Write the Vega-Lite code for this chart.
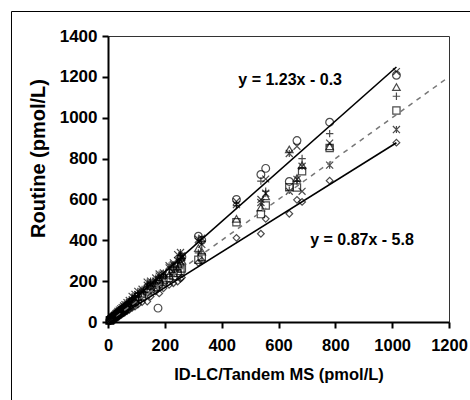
{
  "$schema": "https://vega.github.io/schema/vega-lite/v6.json",
  "width": 341,
  "height": 286,
  "autosize": {"type": "none"},
  "padding": {"left": 108, "top": 36, "right": 21, "bottom": 78},
  "background": "white",
  "config": {
    "view": {"stroke": "#333", "strokeWidth": 1},
    "font": "Liberation Sans",
    "axis": {
      "domainColor": "black", "domainWidth": 2,
      "tickColor": "black", "tickWidth": 2, "tickSize": 6,
      "grid": false,
      "labelFont": "Liberation Sans", "labelFontWeight": "bold", "labelFontSize": 16, "labelColor": "black",
      "titleFont": "Liberation Sans", "titleFontWeight": "bold", "titleFontSize": 16, "titleColor": "black"
    }
  },
  "datasets": {
    "points": [
      {"x":1015,"y":1208,"lab":"c"},{"x":1015,"y":1150,"lab":"t"},{"x":1015,"y":1105,"lab":"p"},{"x":1015,"y":1035,"lab":"s"},{"x":1015,"y":942,"lab":"a"},{"x":1015,"y":1226,"lab":"x"},{"x":1015,"y":878,"lab":"d"},
      {"x":780,"y":978,"lab":"c"},{"x":780,"y":860,"lab":"t"},{"x":780,"y":922,"lab":"p"},{"x":780,"y":852,"lab":"s"},{"x":780,"y":768,"lab":"a"},{"x":780,"y":876,"lab":"x"},{"x":780,"y":692,"lab":"d"},
      {"x":683,"y":768,"lab":"t"},{"x":683,"y":800,"lab":"p"},{"x":683,"y":738,"lab":"s"},{"x":683,"y":762,"lab":"a"},{"x":683,"y":640,"lab":"x"},{"x":683,"y":588,"lab":"d"},
      {"x":665,"y":888,"lab":"c"},{"x":665,"y":705,"lab":"t"},{"x":665,"y":690,"lab":"p"},{"x":665,"y":658,"lab":"s"},{"x":665,"y":698,"lab":"a"},{"x":665,"y":860,"lab":"x"},{"x":665,"y":598,"lab":"d"},
      {"x":638,"y":688,"lab":"c"},{"x":638,"y":845,"lab":"t"},{"x":638,"y":645,"lab":"p"},{"x":638,"y":660,"lab":"s"},{"x":638,"y":825,"lab":"a"},{"x":638,"y":640,"lab":"x"},{"x":638,"y":530,"lab":"d"},
      {"x":555,"y":752,"lab":"c"},{"x":555,"y":615,"lab":"t"},{"x":555,"y":640,"lab":"p"},{"x":555,"y":570,"lab":"s"},{"x":555,"y":630,"lab":"a"},{"x":555,"y":700,"lab":"x"},{"x":555,"y":505,"lab":"d"},
      {"x":538,"y":722,"lab":"c"},{"x":538,"y":560,"lab":"t"},{"x":538,"y":690,"lab":"p"},{"x":538,"y":528,"lab":"s"},{"x":538,"y":585,"lab":"a"},{"x":538,"y":600,"lab":"x"},{"x":538,"y":432,"lab":"d"},
      {"x":452,"y":600,"lab":"c"},{"x":452,"y":505,"lab":"t"},{"x":452,"y":570,"lab":"p"},{"x":452,"y":488,"lab":"s"},{"x":452,"y":575,"lab":"a"},{"x":452,"y":590,"lab":"x"},{"x":452,"y":412,"lab":"d"},
      {"x":318,"y":420,"lab":"c"},{"x":318,"y":362,"lab":"t"},{"x":318,"y":338,"lab":"p"},{"x":318,"y":305,"lab":"s"},{"x":318,"y":405,"lab":"a"},{"x":318,"y":395,"lab":"x"},{"x":318,"y":290,"lab":"d"},
      {"x":330,"y":400,"lab":"c"},{"x":330,"y":345,"lab":"t"},{"x":330,"y":395,"lab":"p"},{"x":330,"y":318,"lab":"s"},{"x":330,"y":380,"lab":"a"},{"x":330,"y":410,"lab":"x"},{"x":330,"y":300,"lab":"d"},
      {"x":260,"y":318,"lab":"c"},{"x":260,"y":300,"lab":"t"},{"x":260,"y":310,"lab":"p"},{"x":260,"y":262,"lab":"s"},{"x":260,"y":325,"lab":"a"},{"x":260,"y":315,"lab":"x"},{"x":260,"y":218,"lab":"d"},
      {"x":255,"y":310,"lab":"c"},{"x":255,"y":290,"lab":"t"},{"x":255,"y":325,"lab":"p"},{"x":255,"y":250,"lab":"s"},{"x":255,"y":340,"lab":"a"},{"x":255,"y":300,"lab":"x"},{"x":255,"y":212,"lab":"d"},
      {"x":245,"y":270,"lab":"c"},{"x":245,"y":260,"lab":"t"},{"x":245,"y":290,"lab":"p"},{"x":245,"y":240,"lab":"s"},{"x":245,"y":300,"lab":"a"},{"x":245,"y":330,"lab":"x"},{"x":245,"y":198,"lab":"d"},
      {"x":230,"y":250,"lab":"c"},{"x":230,"y":240,"lab":"t"},{"x":230,"y":270,"lab":"p"},{"x":230,"y":225,"lab":"s"},{"x":230,"y":280,"lab":"a"},{"x":230,"y":290,"lab":"x"},{"x":230,"y":190,"lab":"d"},
      {"x":215,"y":240,"lab":"c"},{"x":215,"y":230,"lab":"t"},{"x":215,"y":255,"lab":"p"},{"x":215,"y":215,"lab":"s"},{"x":215,"y":275,"lab":"a"},{"x":215,"y":265,"lab":"x"},{"x":215,"y":182,"lab":"d"},
      {"x":195,"y":215,"lab":"c"},{"x":195,"y":205,"lab":"t"},{"x":195,"y":225,"lab":"p"},{"x":195,"y":198,"lab":"s"},{"x":195,"y":240,"lab":"a"},{"x":195,"y":230,"lab":"x"},{"x":195,"y":165,"lab":"d"},
      {"x":180,"y":195,"lab":"c"},{"x":180,"y":210,"lab":"t"},{"x":180,"y":220,"lab":"p"},{"x":180,"y":185,"lab":"s"},{"x":180,"y":235,"lab":"a"},{"x":180,"y":225,"lab":"x"},{"x":180,"y":140,"lab":"d"},
      {"x":176,"y":68,"lab":"c"},
      {"x":168,"y":168,"lab":"c"},{"x":168,"y":190,"lab":"t"},{"x":168,"y":205,"lab":"p"},{"x":168,"y":172,"lab":"s"},{"x":168,"y":215,"lab":"a"},{"x":168,"y":200,"lab":"x"},{"x":168,"y":150,"lab":"d"},
      {"x":150,"y":180,"lab":"c"},{"x":150,"y":175,"lab":"t"},{"x":150,"y":190,"lab":"p"},{"x":150,"y":160,"lab":"s"},{"x":150,"y":200,"lab":"a"},{"x":150,"y":185,"lab":"x"},{"x":150,"y":125,"lab":"d"},
      {"x":138,"y":165,"lab":"c"},{"x":138,"y":160,"lab":"t"},{"x":138,"y":175,"lab":"p"},{"x":138,"y":150,"lab":"s"},{"x":138,"y":195,"lab":"a"},{"x":138,"y":180,"lab":"x"},{"x":138,"y":100,"lab":"d"},
      {"x":120,"y":140,"lab":"c"},{"x":120,"y":135,"lab":"t"},{"x":120,"y":150,"lab":"p"},{"x":120,"y":125,"lab":"s"},{"x":120,"y":160,"lab":"a"},{"x":120,"y":148,"lab":"x"},{"x":120,"y":98,"lab":"d"},
      {"x":105,"y":125,"lab":"c"},{"x":105,"y":120,"lab":"t"},{"x":105,"y":140,"lab":"p"},{"x":105,"y":110,"lab":"s"},{"x":105,"y":150,"lab":"a"},{"x":105,"y":135,"lab":"x"},{"x":105,"y":85,"lab":"d"},
      {"x":95,"y":112,"lab":"c"},{"x":95,"y":108,"lab":"t"},{"x":95,"y":122,"lab":"p"},{"x":95,"y":100,"lab":"s"},{"x":95,"y":135,"lab":"a"},{"x":95,"y":118,"lab":"x"},{"x":95,"y":76,"lab":"d"},
      {"x":85,"y":100,"lab":"c"},{"x":85,"y":100,"lab":"t"},{"x":85,"y":115,"lab":"p"},{"x":85,"y":95,"lab":"s"},{"x":85,"y":125,"lab":"a"},{"x":85,"y":110,"lab":"x"},{"x":85,"y":70,"lab":"d"},
      {"x":75,"y":90,"lab":"c"},{"x":75,"y":85,"lab":"t"},{"x":75,"y":100,"lab":"p"},{"x":75,"y":80,"lab":"s"},{"x":75,"y":105,"lab":"a"},{"x":75,"y":95,"lab":"x"},{"x":75,"y":60,"lab":"d"},
      {"x":67,"y":80,"lab":"c"},{"x":67,"y":76,"lab":"t"},{"x":67,"y":88,"lab":"p"},{"x":67,"y":72,"lab":"s"},{"x":67,"y":95,"lab":"a"},{"x":67,"y":84,"lab":"x"},{"x":67,"y":54,"lab":"d"},
      {"x":60,"y":72,"lab":"c"},{"x":60,"y":70,"lab":"t"},{"x":60,"y":80,"lab":"p"},{"x":60,"y":65,"lab":"s"},{"x":60,"y":85,"lab":"a"},{"x":60,"y":75,"lab":"x"},{"x":60,"y":48,"lab":"d"},
      {"x":55,"y":66,"lab":"c"},{"x":55,"y":62,"lab":"t"},{"x":55,"y":70,"lab":"p"},{"x":55,"y":58,"lab":"s"},{"x":55,"y":78,"lab":"a"},{"x":55,"y":68,"lab":"x"},{"x":55,"y":44,"lab":"d"},
      {"x":50,"y":60,"lab":"c"},{"x":50,"y":58,"lab":"t"},{"x":50,"y":65,"lab":"p"},{"x":50,"y":55,"lab":"s"},{"x":50,"y":70,"lab":"a"},{"x":50,"y":62,"lab":"x"},{"x":50,"y":40,"lab":"d"},
      {"x":45,"y":55,"lab":"c"},{"x":45,"y":52,"lab":"t"},{"x":45,"y":58,"lab":"p"},{"x":45,"y":48,"lab":"s"},{"x":45,"y":64,"lab":"a"},{"x":45,"y":56,"lab":"x"},{"x":45,"y":36,"lab":"d"},
      {"x":40,"y":50,"lab":"c"},{"x":40,"y":46,"lab":"t"},{"x":40,"y":52,"lab":"p"},{"x":40,"y":44,"lab":"s"},{"x":40,"y":58,"lab":"a"},{"x":40,"y":50,"lab":"x"},{"x":40,"y":32,"lab":"d"},
      {"x":35,"y":44,"lab":"c"},{"x":35,"y":41,"lab":"t"},{"x":35,"y":46,"lab":"p"},{"x":35,"y":38,"lab":"s"},{"x":35,"y":52,"lab":"a"},{"x":35,"y":44,"lab":"x"},{"x":35,"y":28,"lab":"d"},
      {"x":32,"y":40,"lab":"c"},{"x":32,"y":37,"lab":"t"},{"x":32,"y":42,"lab":"p"},{"x":32,"y":35,"lab":"s"},{"x":32,"y":45,"lab":"a"},{"x":32,"y":40,"lab":"x"},{"x":32,"y":26,"lab":"d"},
      {"x":28,"y":35,"lab":"c"},{"x":28,"y":32,"lab":"t"},{"x":28,"y":37,"lab":"p"},{"x":28,"y":31,"lab":"s"},{"x":28,"y":40,"lab":"a"},{"x":28,"y":34,"lab":"x"},{"x":28,"y":22,"lab":"d"},
      {"x":25,"y":30,"lab":"c"},{"x":25,"y":28,"lab":"t"},{"x":25,"y":32,"lab":"p"},{"x":25,"y":28,"lab":"s"},{"x":25,"y":35,"lab":"a"},{"x":25,"y":30,"lab":"x"},{"x":25,"y":20,"lab":"d"},
      {"x":22,"y":27,"lab":"c"},{"x":22,"y":25,"lab":"t"},{"x":22,"y":28,"lab":"p"},{"x":22,"y":24,"lab":"s"},{"x":22,"y":31,"lab":"a"},{"x":22,"y":27,"lab":"x"},{"x":22,"y":17,"lab":"d"},
      {"x":18,"y":22,"lab":"c"},{"x":18,"y":21,"lab":"t"},{"x":18,"y":24,"lab":"p"},{"x":18,"y":20,"lab":"s"},{"x":18,"y":26,"lab":"a"},{"x":18,"y":22,"lab":"x"},{"x":18,"y":14,"lab":"d"},
      {"x":15,"y":18,"lab":"c"},{"x":15,"y":17,"lab":"t"},{"x":15,"y":20,"lab":"p"},{"x":15,"y":16,"lab":"s"},{"x":15,"y":22,"lab":"a"},{"x":15,"y":19,"lab":"x"},{"x":15,"y":11,"lab":"d"},
      {"x":12,"y":15,"lab":"c"},{"x":12,"y":14,"lab":"t"},{"x":12,"y":16,"lab":"p"},{"x":12,"y":13,"lab":"s"},{"x":12,"y":17,"lab":"a"},{"x":12,"y":15,"lab":"x"},{"x":12,"y":9,"lab":"d"},
      {"x":8,"y":10,"lab":"c"},{"x":8,"y":9,"lab":"t"},{"x":8,"y":11,"lab":"p"},{"x":8,"y":9,"lab":"s"},{"x":8,"y":12,"lab":"a"},{"x":8,"y":10,"lab":"x"},{"x":8,"y":6,"lab":"d"},
      {"x":6,"y":8,"lab":"c"},{"x":6,"y":7,"lab":"t"},{"x":6,"y":8,"lab":"p"},{"x":6,"y":7,"lab":"s"},{"x":6,"y":9,"lab":"a"},{"x":6,"y":8,"lab":"x"},{"x":6,"y":4,"lab":"d"}
    ],
    "fits": [
      {"x":0,"y":-0.3,"fit":"upper"},{"x":1015,"y":1248.2,"fit":"upper"},
      {"x":7,"y":0.3,"fit":"lower"},{"x":1015,"y":877.3,"fit":"lower"}
    ],
    "identity": [{"x":0,"y":0},{"x":1200,"y":1200}],
    "labels": [
      {"x":641,"y":1186,"label":"y = 1.23x - 0.3"},
      {"x":894,"y":401,"label":"y = 0.87x - 5.8"}
    ]
  },
  "layer": [
    {
      "data": {"name": "points"},
      "mark": {"type": "point", "filled": false, "color": "black", "strokeWidth": 1.2},
      "encoding": {
        "x": {"field": "x", "type": "quantitative",
              "scale": {"domain": [0, 1200], "nice": false, "zero": false},
              "axis": {"title": "ID-LC/Tandem MS (pmol/L)", "format": "d", "values": [0,200,400,600,800,1000,1200], "labelFontSize": 16.5, "labelPadding": 9, "titlePadding": 13, "titleFontSize": 16.5, "labelFlush": false, "labelOverlap": false}},
        "y": {"field": "y", "type": "quantitative",
              "scale": {"domain": [0, 1400], "nice": false, "zero": false},
              "axis": {"title": "Routine (pmol/L)", "format": "d", "values": [0,200,400,600,800,1000,1200,1400], "labelFontSize": 17, "labelPadding": 5, "titlePadding": 11, "titleFontSize": 20, "titleY": 122, "labelOverlap": false}},
        "shape": {"field": "lab", "type": "nominal", "legend": null,
                  "scale": {"domain": ["c","t","p","s","a","x","d"],
                            "range": ["circle","triangle-up","M-1,0L1,0M0,-1L0,1","square","M-1,-1L1,1M-1,1L1,-1M0,-1L0,1","M-1,-1L1,1M-1,1L1,-1","diamond"]}},
        "size": {"field": "lab", "type": "nominal", "legend": null,
                 "scale": {"domain": ["c","t","p","s","a","x","d"], "range": [60, 45, 100, 45, 90, 64, 42]}}
      }
    },
    {
      "data": {"name": "identity"},
      "mark": {"type": "line", "color": "#777", "strokeWidth": 1.5, "strokeDash": [5, 5]},
      "encoding": {
        "x": {"field": "x", "type": "quantitative"},
        "y": {"field": "y", "type": "quantitative"}
      }
    },
    {
      "data": {"name": "fits"},
      "mark": {"type": "line", "color": "black", "strokeWidth": 1.6},
      "encoding": {
        "x": {"field": "x", "type": "quantitative"},
        "y": {"field": "y", "type": "quantitative"},
        "detail": {"field": "fit", "type": "nominal"}
      }
    },
    {
      "data": {"name": "labels"},
      "mark": {"type": "text", "font": "Liberation Sans", "fontWeight": "bold", "fontSize": 16, "align": "center", "baseline": "middle", "color": "black"},
      "encoding": {
        "x": {"field": "x", "type": "quantitative"},
        "y": {"field": "y", "type": "quantitative"},
        "text": {"field": "label", "type": "nominal"}
      }
    },
    {
      "data": {"values": [{}]},
      "mark": {"type": "rule", "color": "black", "strokeWidth": 1},
      "encoding": {
        "x": {"datum": -339.6, "type": "quantitative"},
        "x2": {"datum": 1300},
        "y": {"datum": 1519.9, "type": "quantitative"}
      }
    },
    {
      "data": {"values": [{}]},
      "mark": {"type": "rule", "color": "black", "strokeWidth": 1},
      "encoding": {
        "x": {"datum": -339.6, "type": "quantitative"},
        "y": {"datum": 1519.9, "type": "quantitative"},
        "y2": {"datum": -450}
      }
    }
  ]
}
